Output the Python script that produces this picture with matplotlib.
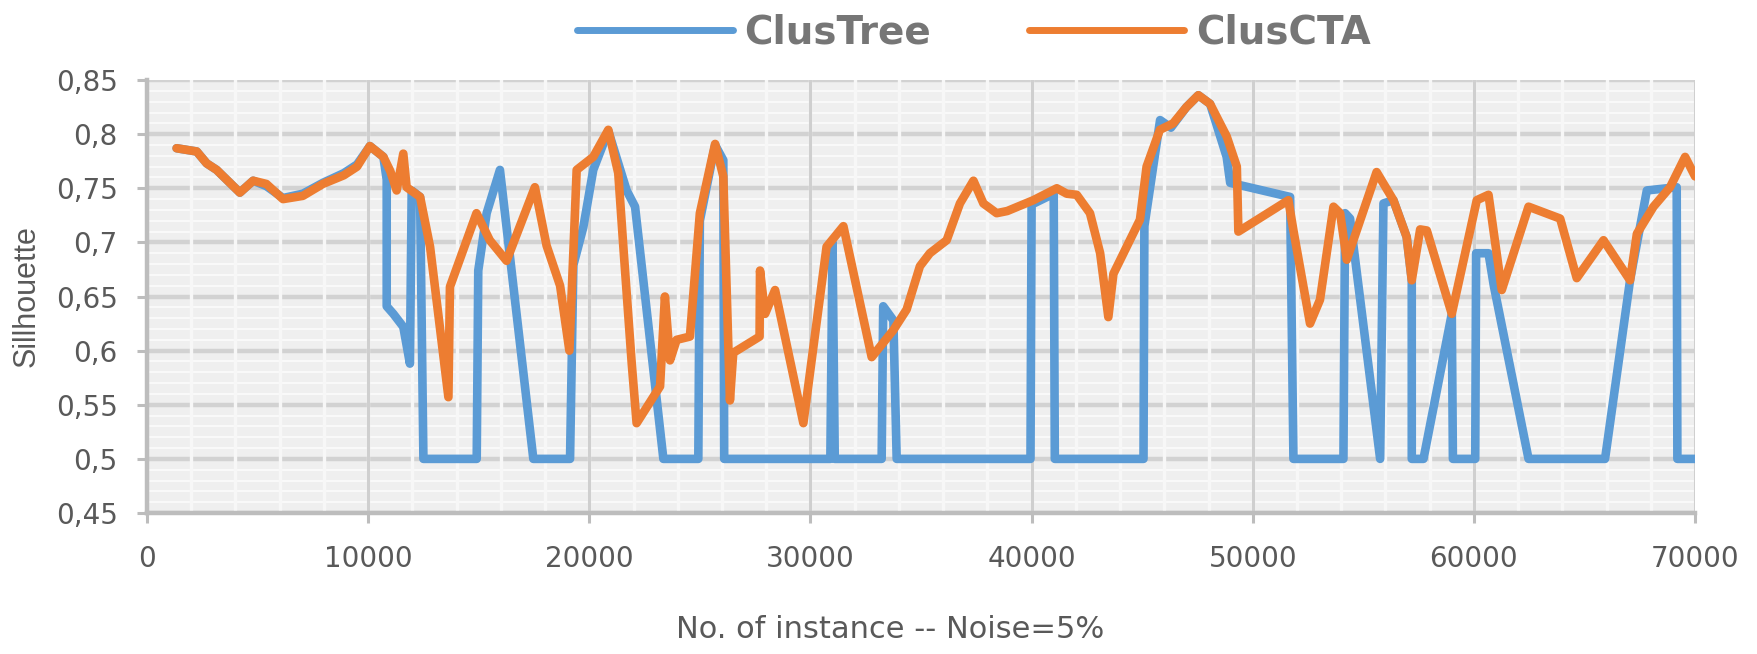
#!/usr/bin/env python3
"""Silhouette vs number of instances (Noise=5%) -- ClusTree vs ClusCTA."""
import matplotlib
matplotlib.use("Agg")
import matplotlib.pyplot as plt
import numpy as np

NARROW = ["Liberation Sans Narrow", "DejaVu Sans"]

# ---- data -----------------------------------------------------------------
cta_x = [1340, 2250, 2700, 3150, 3750, 4200, 4800, 5400, 6150, 7050, 7950, 8900,
         9500, 10080, 10690, 11000, 11290, 11590, 11740, 12350, 12800, 13630,
         13700, 14900, 15500, 16260, 17540, 18070, 18680, 19100, 19430, 20180,
         20860, 21310, 21540, 21920, 22140, 23200, 23420, 23650, 23950, 24550,
         25000, 25690, 26060, 26360, 26510, 27700, 27720, 27950, 28400, 29680,
         30730, 31490, 32770, 33750, 34350, 34950, 35400, 36160, 36760, 37370,
         37820, 38420, 38900, 40080, 41140, 41590, 42040, 42640, 43100, 43470,
         43700, 44900, 45200, 45800, 46400, 47000, 47540, 48070, 48820, 49280,
         49350, 51610, 51840, 52590, 53040, 53650, 53950, 54250, 55600, 56360,
         56960, 57190, 57570, 57870, 59000, 60130, 60660, 61260, 62470, 63900,
         64650, 65860, 67060, 67370, 68120, 68870, 69550, 70000]
cta_y = [0.787, 0.784, 0.773, 0.767, 0.755, 0.746, 0.757, 0.754, 0.740, 0.743, 0.754, 0.762,
         0.770, 0.789, 0.779, 0.766, 0.748, 0.782, 0.751, 0.742, 0.696, 0.557,
         0.659, 0.727, 0.702, 0.683, 0.751, 0.697, 0.660, 0.600, 0.767, 0.779,
         0.804, 0.764, 0.696, 0.588, 0.533, 0.567, 0.650, 0.591, 0.610, 0.613,
         0.727, 0.791, 0.761, 0.554, 0.598, 0.613, 0.674, 0.634, 0.656, 0.533,
         0.696, 0.715, 0.594, 0.619, 0.638, 0.678, 0.690, 0.702, 0.736, 0.757,
         0.736, 0.727, 0.729, 0.739, 0.750, 0.745, 0.744, 0.727, 0.690, 0.631,
         0.671, 0.721, 0.770, 0.804, 0.810, 0.825, 0.836, 0.828, 0.798, 0.770,
         0.710, 0.739, 0.711, 0.625, 0.647, 0.733, 0.727, 0.684, 0.765, 0.739,
         0.705, 0.665, 0.712, 0.711, 0.634, 0.739, 0.744, 0.656, 0.733, 0.722,
         0.667, 0.702, 0.665, 0.708, 0.733, 0.751, 0.779, 0.761]

tree_x = [1340, 2250, 2700, 3150, 3750, 4200, 4800, 5400, 6150, 7050, 7950, 8900,
          9500, 10080, 10690, 10840, 10840, 11140, 11590, 11890, 11970, 12350,
          12500, 14910, 14980, 15360, 15960, 17470, 19130, 19280, 19730, 20180,
          20860, 21690, 22070, 23350, 24930, 25000, 25690, 26060, 26100, 30900,
          31000, 31100, 33220, 33290, 33750, 33900, 39950, 40000, 41000, 41050,
          45060, 45100, 45810, 46300, 47000, 47540, 48070, 48820, 48980, 51690,
          51840, 54100, 54175, 54400, 55760, 55910, 56360, 56960, 57190, 57190,
          57720, 59000, 59050, 60060, 60100, 60660, 60900, 62470, 65930, 67060,
          67820, 69170, 69200, 70000]
tree_y = [0.787, 0.784, 0.773, 0.767, 0.755, 0.746, 0.757, 0.752, 0.741, 0.745, 0.755, 0.764,
          0.772, 0.789, 0.779, 0.758, 0.641, 0.634, 0.622, 0.588, 0.748, 0.742,
          0.500, 0.500, 0.674, 0.727, 0.767, 0.500, 0.500, 0.679, 0.714, 0.767,
          0.803, 0.748, 0.733, 0.500, 0.500, 0.720, 0.790, 0.776, 0.500, 0.500,
          0.700, 0.500, 0.500, 0.641, 0.628, 0.500, 0.500, 0.735, 0.745, 0.500,
          0.500, 0.715, 0.813, 0.806, 0.825, 0.836, 0.828, 0.779, 0.755, 0.742,
          0.500, 0.500, 0.727, 0.722, 0.500, 0.736, 0.739, 0.705, 0.665, 0.500,
          0.500, 0.634, 0.500, 0.500, 0.690, 0.690, 0.660, 0.500, 0.500, 0.665,
          0.748, 0.751, 0.500, 0.500]

yticks = [0.45, 0.50, 0.55, 0.60, 0.65, 0.70, 0.75, 0.80, 0.85]
ytick_labels = ["0,45", "0,5", "0,55", "0,6", "0,65", "0,7", "0,75", "0,8", "0,85"]
xticks = [0, 10000, 20000, 30000, 40000, 50000, 60000, 70000]
xtick_labels = ["0", "10000", "20000", "30000", "40000", "50000", "60000", "70000"]

BLUE = "#5B9BD5"
ORANGE = "#ED7D31"
GREY_TXT = "#595959"

fig = plt.figure(figsize=(17.58, 6.54), dpi=100)
ax = fig.add_axes([0.0836, 0.2156, 0.8806, 0.662])
ax.set_facecolor("#efefef")
ax.set_xlim(0, 70000)
ax.set_ylim(0.45, 0.85)

# Excel-like gridwork: minor unit = major / 5
for y in np.arange(0.45, 0.851, 0.01):
    ax.axhline(y, color="#fbfbfb", lw=1.3, zorder=0.2)
for y in yticks:
    ax.axhline(y, color="#d2d2d2", lw=3.2, zorder=0.3)
for x in np.arange(2000, 70000, 2000):
    ax.axvline(x, color="#f7f7f7", lw=2.4, zorder=0.4)
for x in xticks:
    ax.axvline(x, color="#cfcfcf", lw=2.2, zorder=0.5)

ax.plot(tree_x, tree_y, color=BLUE, lw=6.2, label="ClusTree", zorder=3,
        solid_joinstyle="round", solid_capstyle="round")
ax.plot(cta_x, cta_y, color=ORANGE, lw=6.2, label="ClusCTA", zorder=4,
        solid_joinstyle="round", solid_capstyle="round")

for s in ("top", "right"):
    ax.spines[s].set_visible(False)
for s in ("left", "bottom"):
    ax.spines[s].set_color("#bdbdbd")
    ax.spines[s].set_linewidth(3.2)
    ax.spines[s].set_zorder(1)

ax.set_yticks(yticks)
ax.set_yticklabels(ytick_labels)
ax.set_xticks(xticks)
ax.set_xticklabels(xtick_labels)
ax.tick_params(axis="both", direction="out", length=7, width=2.2, color="#bdbdbd",
               labelcolor=GREY_TXT, labelsize=20)
ax.tick_params(axis="y", pad=14)
ax.tick_params(axis="x", pad=16)
for lab in ax.get_xticklabels() + ax.get_yticklabels():
    lab.set_family(NARROW)

ax.set_ylabel("Sillhouette", color=GREY_TXT, fontsize=22, family=["Liberation Sans", "DejaVu Sans"])
ax.yaxis.set_label_coords(-0.068, 0.5)
ax.set_xlabel("No. of instance -- Noise=5%", color=GREY_TXT, fontsize=22, family=NARROW)
ax.xaxis.set_label_coords(0.48, -0.235)

leg = ax.legend(loc="center", bbox_to_anchor=(0.554, 0.95), bbox_transform=fig.transFigure,
                ncol=2, frameon=False, handlelength=4.0, handletextpad=0.3,
                columnspacing=2.5, prop={"family": "DejaVu Sans", "weight": "bold", "size": 28})
for line in leg.get_lines():
    line.set_linewidth(5)
for t in leg.get_texts():
    t.set_color("#767676")

fig.savefig("out.png", dpi=100)
